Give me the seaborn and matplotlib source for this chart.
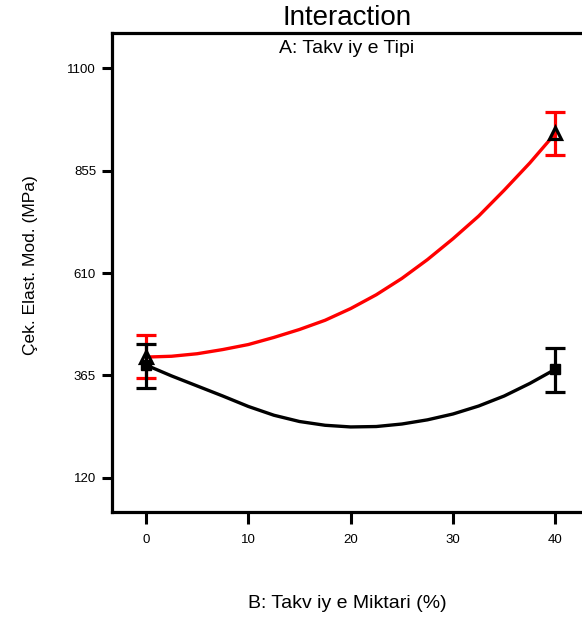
import seaborn as sns
import matplotlib
matplotlib.use("Agg")
import matplotlib.pyplot as plt
import pandas as pd

# curve values (B = 0..40 %)
b_grid = [0, 2.5, 5, 7.5, 10, 12.5, 15, 17.5, 20, 22.5, 25, 27.5, 30, 32.5, 35, 37.5, 40]
red_curve = [409, 411, 417, 427, 439, 456, 475, 497, 525, 558, 597, 642, 692, 746, 808, 873, 944]
black_curve = [390, 364, 340, 316, 291, 270, 255, 246, 242, 243, 249, 259, 273, 292, 316, 346, 380]

# design points with their error bars
b_points = [0, 40]
red_points = [409, 944]
red_low = [359, 892]
red_high = [462, 995]
black_points = [390, 380]
black_low = [335, 326]
black_high = [440, 431]

y_ticks = [120, 365, 610, 855, 1100]
x_ticks = [0, 10, 20, 30, 40]

sns.set_style("ticks")
plt.rcParams['font.family'] = ['Liberation Sans', 'DejaVu Sans']
plt.rcParams['text.color'] = 'black'
plt.rcParams['axes.labelcolor'] = 'black'
plt.rcParams['xtick.color'] = 'black'
plt.rcParams['ytick.color'] = 'black'

curves = pd.DataFrame({
    'B': b_grid * 2,
    'y': red_curve + black_curve,
    'A': ['A2'] * len(b_grid) + ['A1'] * len(b_grid),
})

fig = plt.figure(figsize=(5.82, 6.24), dpi=100)
ax = fig.add_axes([0.1924, 0.1795, 0.8076, 0.7676])

sns.lineplot(data=curves, x='B', y='y', hue='A', palette={'A2': 'red', 'A1': 'black'},
             linewidth=2.4, legend=False, ax=ax, zorder=2)

def err(lo, mid, hi):
    return [[m - l for m, l in zip(mid, lo)], [h - m for h, m in zip(hi, mid)]]

ax.errorbar(b_points, red_points, yerr=err(red_low, red_points, red_high), fmt='none',
            ecolor='red', elinewidth=2.3, capsize=7.5, capthick=2.3, zorder=3)
ax.errorbar(b_points, black_points, yerr=err(black_low, black_points, black_high), fmt='none',
            ecolor='black', elinewidth=2.3, capsize=7.5, capthick=2.3, zorder=3)

ax.plot(b_points, black_points, 's', color='black', markersize=6.5, zorder=4)
ax.plot(b_points, red_points, '^', markerfacecolor='none', markeredgecolor='black',
        markeredgewidth=2.3, markersize=8, zorder=5)

ax.set_xlim(-3.32, 42.6)
ax.set_ylim(38.7, 1183.7)
ax.set_xticks(x_ticks)
ax.set_yticks(y_ticks)
ax.tick_params(axis='both', direction='out', color='black', width=2.2, labelsize=9.5,
               labelcolor='black')
ax.tick_params(axis='y', length=7.5, pad=4)
ax.tick_params(axis='x', length=8.5, pad=7)

for side in ['left', 'top', 'bottom']:
    ax.spines[side].set_visible(True)
    ax.spines[side].set_color('black')
    ax.spines[side].set_linewidth(2.3)
ax.spines['right'].set_visible(False)

ax.set_xlabel('B: Takv iy e Miktari (%)', fontsize=14)
ax.set_ylabel('Çek. Elast. Mod. (MPa)', fontsize=12.5)
ax.xaxis.set_label_coords(0.5, -0.192)
ax.xaxis.label.set_va('center')
ax.yaxis.set_label_coords(-0.174, 0.515)
ax.yaxis.label.set_va('center')

ax.set_title('Interaction', fontsize=20, pad=5.5, color='black')
ax.text(0.5, 0.9687, 'A: Takv iy e Tipi', transform=ax.transAxes, ha='center', va='center',
        fontsize=14, color='black')

fig.savefig('out.png', dpi=100)
